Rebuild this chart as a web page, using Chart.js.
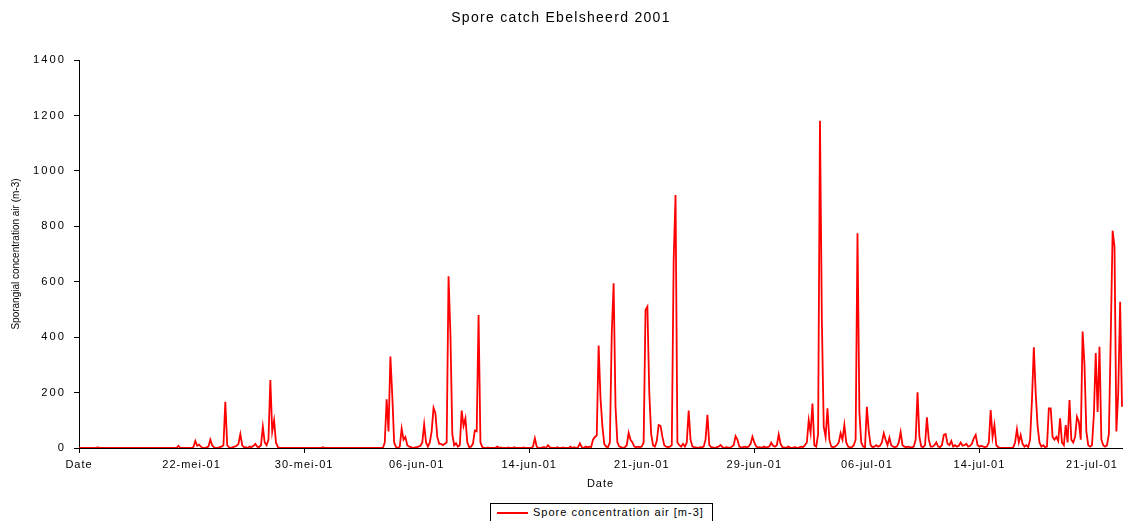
<!DOCTYPE html>
<html>
<head>
<meta charset="utf-8">
<title>Spore catch Ebelsheerd 2001</title>
<script src="https://cdn.jsdelivr.net/npm/chart.js@4.4.1/dist/chart.umd.min.js"></script>
<style>
    html, body { margin: 0; padding: 0; background: #fff; overflow: hidden; }
    #wrap { position: relative; width: 1127px; height: 521px; }
    #legend {
        position: absolute; left: 490px; top: 503px; width: 223px; height: 30px;
        border: 1px solid #000; box-sizing: border-box; background: #fff;
        font: 11px "Liberation Sans", Arial, sans-serif; letter-spacing: 1px; color: #000;
    }
    #legend .line { position: absolute; left: 6px; top: 8px; width: 31px; border-top: 2px solid #ff0000; }
    #legend .txt { position: absolute; left: 42px; top: 2px; white-space: nowrap; }
</style>
</head>
<body>
<div id="wrap">
    <canvas id="sporeChart" width="1127" height="521"></canvas>
    <div id="legend"><span class="line"></span><span class="txt">Spore concentration air [m-3]</span></div>
</div>
<script>
// Tick labels, one every 60 points (3-hourly values, 7.5 days apart)
const tickLabels = ['Date', '22-mei-01', '30-mei-01', '06-jun-01', '14-jun-01', '21-jun-01', '29-jun-01', '06-jul-01', '14-jul-01', '21-jul-01'];
const pointsPerTick = 60;

// Spore concentration (m-3), 3-hourly, one array per label interval
const fromStart = [
    0, 0, 0, 0, 0, 0, 0, 0, 0, 0,
    3, 0, 0, 0, 0, 0, 0, 0, 0, 0,
    0, 0, 0, 0, 0, 0, 0, 0, 0, 0,
    0, 0, 0, 0, 0, 0, 0, 0, 0, 0,
    0, 0, 0, 0, 0, 0, 0, 0, 0, 0,
    0, 0, 0, 8, 0, 0, 0, 0, 0, 0];
const from22May = [
    0, 3, 25, 8, 12, 5, 0, 0, 2, 5,
    30, 10, 2, 0, 0, 3, 5, 10, 167, 10,
    2, 0, 3, 5, 8, 15, 50, 10, 2, 3,
    0, 5, 3, 8, 15, 5, 3, 10, 77, 20,
    10, 30, 245, 60, 100, 20, 3, 0, 0, 0,
    0, 0, 0, 0, 0, 0, 0, 0, 0, 0];
const from30May = [
    0, 0, 0, 0, 0, 0, 0, 0, 0, 0,
    3, 0, 0, 0, 0, 0, 0, 0, 0, 0,
    0, 0, 0, 0, 0, 0, 0, 0, 0, 0,
    0, 0, 0, 0, 0, 0, 0, 0, 0, 0,
    0, 0, 0, 20, 176, 60, 330, 190, 20, 3,
    0, 5, 70, 30, 40, 10, 5, 3, 0, 2];
const from06Jun = [
    3, 5, 8, 20, 85, 20, 5, 20, 60, 145,
    125, 40, 15, 15, 10, 15, 20, 620, 410, 50,
    10, 17, 5, 10, 135, 80, 107, 20, 3, 5,
    15, 63, 60, 480, 20, 3, 0, 0, 2, 0,
    0, 0, 0, 5, 0, 2, 0, 0, 0, 2,
    0, 0, 3, 0, 0, 0, 0, 2, 0, 0];
const from14Jun = [
    0, 0, 5, 35, 5, 0, 0, 2, 3, 0,
    10, 2, 0, 0, 0, 3, 0, 0, 2, 0,
    0, 0, 5, 0, 3, 0, 2, 17, 3, 0,
    5, 2, 5, 3, 30, 40, 45, 370, 180, 80,
    15, 5, 3, 20, 414, 594, 150, 20, 5, 3,
    0, 3, 10, 55, 30, 20, 5, 3, 5, 3];
const from21Jun = [
    5, 20, 498, 510, 200, 50, 10, 5, 25, 83,
    80, 40, 10, 5, 3, 5, 10, 678, 913, 20,
    10, 5, 15, 5, 20, 135, 30, 5, 3, 2,
    0, 3, 2, 5, 30, 120, 10, 3, 2, 0,
    3, 5, 11, 3, 0, 3, 2, 0, 5, 10,
    43, 30, 5, 2, 3, 5, 2, 5, 15, 41];
const from29Jun = [
    20, 5, 2, 3, 0, 5, 2, 3, 5, 19,
    8, 5, 10, 49, 15, 3, 2, 0, 5, 2,
    0, 2, 3, 0, 2, 5, 3, 10, 20, 100,
    55, 160, 10, 5, 50, 1181, 460, 77, 40, 143,
    30, 5, 3, 5, 10, 20, 53, 30, 83, 20,
    5, 2, 3, 10, 30, 775, 131, 20, 5, 3];
const from06Jul = [
    149, 60, 10, 3, 5, 10, 5, 8, 20, 53,
    30, 10, 37, 10, 5, 3, 5, 20, 57, 10,
    5, 3, 5, 3, 2, 5, 30, 201, 40, 5,
    3, 10, 111, 30, 5, 5, 10, 20, 5, 3,
    10, 47, 50, 15, 10, 25, 5, 10, 5, 8,
    20, 8, 10, 15, 5, 8, 15, 35, 47, 10];
const from14Jul = [
    5, 8, 5, 3, 5, 20, 137, 40, 83, 10,
    3, 0, 0, 0, 0, 0, 0, 0, 2, 20,
    67, 20, 47, 15, 5, 10, 3, 30, 173, 363,
    197, 80, 20, 5, 10, 3, 5, 143, 143, 40,
    30, 40, 25, 107, 20, 10, 83, 20, 173, 30,
    20, 40, 113, 95, 30, 420, 300, 60, 10, 5];
const from21Jul = [10, 120, 343, 130, 365, 30, 10, 5, 10, 50, 400, 784, 726, 60, 200, 528, 149];

const sporeValues = [].concat(fromStart, from22May, from30May, from06Jun, from14Jun,
    from21Jun, from29Jun, from06Jul, from14Jul, from21Jul);

// only every 60th category gets a label
const categories = sporeValues.map((v, i) => i % pointsPerTick === 0 ? (tickLabels[i / pointsPerTick] || '') : '');

const FONT = '"Liberation Sans", Arial, sans-serif';

// Excel-like spaced text, spacing picked by font size
const spacingPlugin = {
    id: 'spacing',
    beforeInit(chart) {
        const ctx = chart.ctx;
        const fill = ctx.fillText;
        ctx.fillText = function (text, x, y, maxWidth) {
            const f = this.font;
            let sp = '1px';
            if (f.indexOf('10px') >= 0) sp = '0px';
            else if (f.indexOf('11.2px') >= 0) sp = '2px';
            else if (f.indexOf('14px') >= 0) sp = '1.3px';
            this.letterSpacing = sp;
            if (maxWidth === undefined) return fill.call(this, text, x, y);
            return fill.call(this, text, x, y, maxWidth);
        };
    }
};

new Chart(document.getElementById('sporeChart'), {
    type: 'line',
    data: {
        labels: categories,
        datasets: [{
            label: 'Spore concentration air [m-3]',
            data: sporeValues,
            borderColor: '#ff0000',
            borderWidth: 1.8,
            pointRadius: 0,
            tension: 0,
            fill: false
        }]
    },
    options: {
        responsive: false,
        animation: false,
        layout: { padding: { left: 0, right: 5, top: 0, bottom: 0 } },
        plugins: {
            legend: { display: false },
            tooltip: { enabled: false },
            title: {
                display: true,
                text: 'Spore catch Ebelsheerd 2001',
                color: '#000',
                font: { family: FONT, size: 14, weight: 'normal' },
                padding: { top: 10, bottom: 33.2 }
            }
        },
        scales: {
            x: {
                type: 'category',
                offset: false,
                grid: {
                    drawOnChartArea: false,
                    tickLength: 5,
                    color: c => (c.index % (pointsPerTick * 2) === 0 ? '#000' : 'rgba(0,0,0,0)')
                },
                border: { display: true, color: '#000', width: 1 },
                ticks: {
                    autoSkip: false,
                    maxRotation: 0,
                    minRotation: 0,
                    padding: 5,
                    color: '#000',
                    font: { family: FONT, size: 11 }
                },
                title: {
                    display: true,
                    text: 'Date',
                    color: '#000',
                    font: { family: FONT, size: 11 },
                    padding: { top: 4, bottom: 30 }
                },
                afterFit: s => { s.height = 73; }
            },
            y: {
                min: 0,
                max: 1400,
                grid: { drawOnChartArea: false, tickLength: 5, color: '#000' },
                border: { display: true, color: '#000', width: 1 },
                ticks: {
                    stepSize: 200,
                    padding: 8,
                    color: '#000',
                    font: { family: FONT, size: 11.2 },
                    callback: v => String(v)
                },
                title: {
                    display: true,
                    text: 'Sporangial concentration air (m-3)',
                    color: '#000',
                    font: { family: FONT, size: 10 },
                    padding: { top: 10, bottom: 0 }
                },
                afterFit: s => { s.width = 79; }
            }
        }
    },
    plugins: [spacingPlugin]
});
</script>
</body>
</html>
